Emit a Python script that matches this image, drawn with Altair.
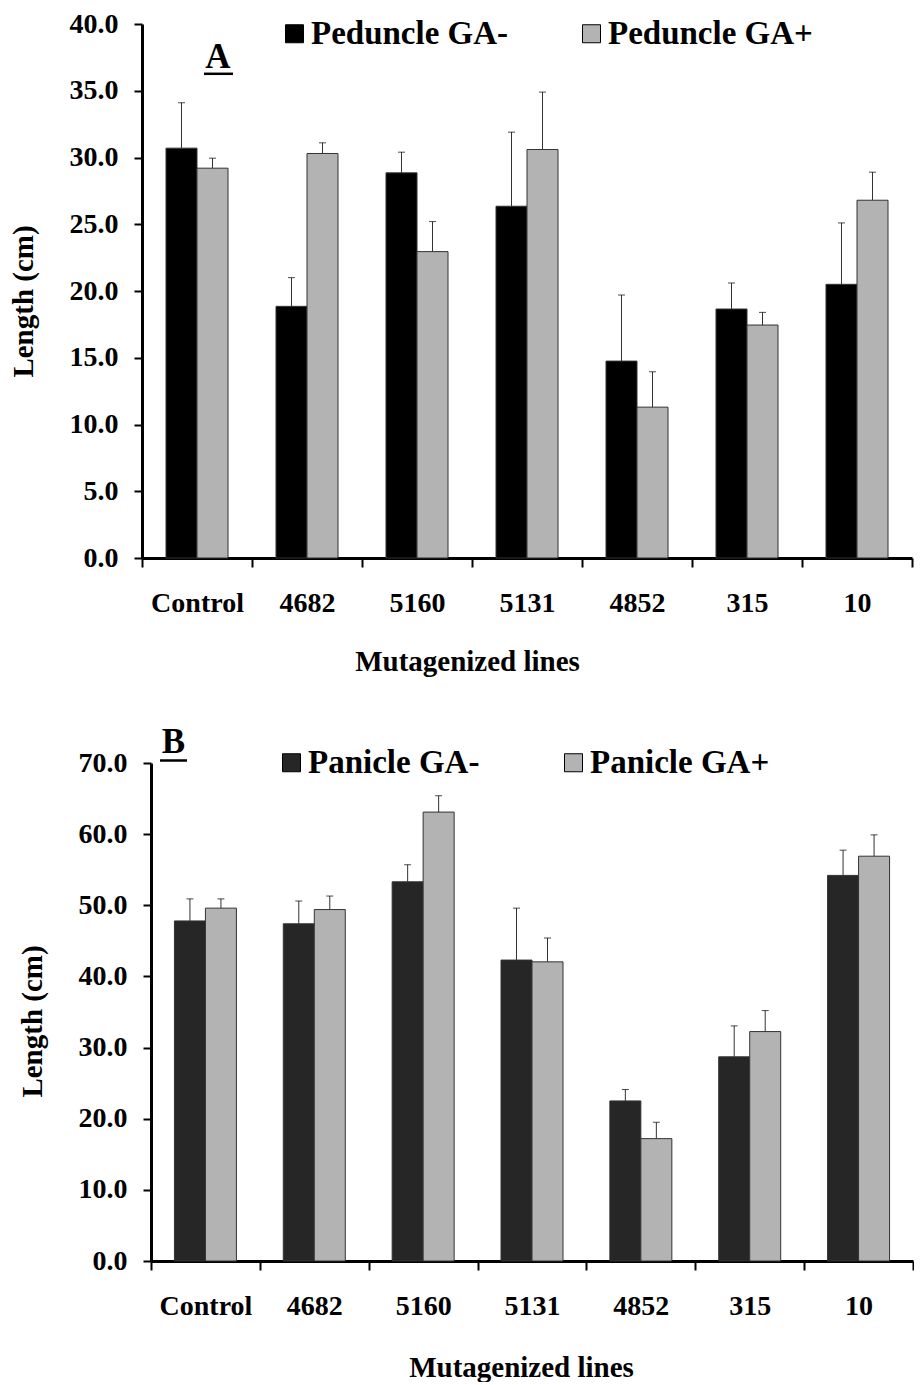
import altair as alt
import pandas as pd

FONT = "Liberation Serif"

lines = ["Control", "4682", "5160", "5131", "4852", "315", "10"]

# Panel A: peduncle length (cm)
ped_series = ["Peduncle GA-", "Peduncle GA+"]
ped_minus = [30.7, 18.85, 28.85, 26.35, 14.75, 18.65, 20.5]
ped_minus_upper = [34.1, 21.0, 30.4, 31.9, 19.7, 20.6, 25.1]
ped_plus = [29.2, 30.3, 22.95, 30.6, 11.3, 17.45, 26.8]
ped_plus_upper = [29.95, 31.1, 25.2, 34.9, 13.95, 18.4, 28.9]
ped_colors = ["#000000", "#b3b3b3"]

# Panel B: panicle length (cm)
pan_series = ["Panicle GA-", "Panicle GA+"]
pan_minus = [47.8, 47.4, 53.3, 42.3, 22.5, 28.7, 54.2]
pan_minus_upper = [50.9, 50.6, 55.7, 49.6, 24.1, 33.05, 57.75]
pan_plus = [49.6, 49.4, 63.1, 42.05, 17.2, 32.25, 56.9]
pan_plus_upper = [50.9, 51.3, 65.4, 45.4, 19.5, 35.2, 59.9]
pan_colors = ["#262626", "#b3b3b3"]

panel_letters = ["A", "B"]


def make_panel(series, m1, u1, m2, u2, colors, ymax, ystep, width, height, bw,
               letter, letter_xy, underline, leg_xy, col_pad, ytitle_y,
               xtitle_x, xtitle_pad):
    df = pd.DataFrame({
        "line": lines + lines,
        "series": [series[0]] * len(lines) + [series[1]] * len(lines),
        "value": m1 + m2,
        "upper": u1 + u2,
    })
    xenc = alt.X("line:N", sort=lines, title="Mutagenized lines",
                 scale=alt.Scale(paddingInner=0, paddingOuter=0),
                 axis=alt.Axis(labelAngle=0, tickBand="extent", tickSize=9,
                               labelPadding=22, titlePadding=xtitle_pad,
                               titleX=xtitle_x))
    yscale = alt.Scale(domain=[0, ymax], nice=False)
    yaxis = alt.Axis(values=list(range(0, ymax + 1, ystep)), format=".1f",
                     tickSize=8, labelPadding=16, titlePadding=31, titleY=ytitle_y)
    color = alt.Color("series:N", sort=series,
                      scale=alt.Scale(domain=series, range=colors),
                      legend=alt.Legend(title=None, orient="none",
                                        legendX=leg_xy[0], legendY=leg_xy[1],
                                        direction="horizontal",
                                        symbolType="square", symbolSize=324,
                                        symbolStrokeColor="black",
                                        symbolStrokeWidth=1,
                                        labelOffset=0, labelLimit=0,
                                        columnPadding=col_pad, padding=0))
    layers = []
    for s, sign in zip(series, (-1, 1)):
        sub = alt.Chart(df).transform_filter(alt.datum.series == s)
        off = sign * bw / 2
        layers.append(sub.mark_bar(width=bw, xOffset=off, stroke="#333333",
                                   strokeWidth=1).encode(
            x=xenc,
            y=alt.Y("value:Q", title="Length (cm)", scale=yscale, axis=yaxis),
            color=color))
        layers.append(sub.mark_rule(xOffset=off, color="#333333", strokeWidth=1).encode(
            x=xenc,
            y=alt.Y("value:Q", title="Length (cm)", scale=yscale, axis=yaxis),
            y2="upper:Q"))
        layers.append(sub.mark_tick(xOffset=off, color="black", thickness=1,
                                    size=7, orient="horizontal").encode(
            x=xenc,
            y=alt.Y("upper:Q", title="Length (cm)", scale=yscale, axis=yaxis)))
    ldf = pd.DataFrame({"letter": [letter]})
    layers.append(alt.Chart(ldf).mark_text(font=FONT, fontSize=35, fontWeight="bold",
                                           align="center", baseline="alphabetic",
                                           color="black").encode(
        text="letter:N", x=alt.value(letter_xy[0]), y=alt.value(letter_xy[1])))
    layers.append(alt.Chart(ldf).mark_rule(color="black", strokeWidth=2.5).encode(
        x=alt.value(underline[0]), x2=alt.value(underline[1]),
        y=alt.value(underline[2])))
    return alt.layer(*layers).properties(width=width, height=height)


def spacer(w):
    return alt.Chart(pd.DataFrame({"s": [0]})).mark_rule(opacity=0).encode(
        x=alt.value(0), x2=alt.value(w), y=alt.value(0)).properties(width=w, height=10)


chart_a = make_panel(ped_series, ped_minus, ped_minus_upper, ped_plus,
                     ped_plus_upper, ped_colors, 40, 5, 770, 534, 31,
                     panel_letters[0], (76, 43.5), (62, 91, 49.8),
                     (136, -7), 66, 277, 325, 30)
chart_b = make_panel(pan_series, pan_minus, pan_minus_upper, pan_plus,
                     pan_plus_upper, pan_colors, 70, 10, 762, 498, 31,
                     panel_letters[1], (22.5, -10), (9, 36, -2.5),
                     (124, -17), 77, 258, 370, 33)

row_a = alt.hconcat(spacer(1), chart_a, spacing=0).resolve_scale(color="independent")
row_b = alt.hconcat(spacer(10), chart_b, spacing=0).resolve_scale(color="independent")

chart = alt.vconcat(row_a, row_b, spacing=49).resolve_scale(
    color="independent", y="independent", x="independent"
).properties(
    padding={"left": 0, "top": 2, "right": 0, "bottom": 0}
).configure_view(stroke=None).configure_axis(
    grid=False, domainColor="black", domainWidth=3, tickColor="black", tickWidth=2,
    labelFont=FONT, labelFontSize=28, labelFontWeight="bold", labelColor="black",
    titleFont=FONT, titleFontSize=29, titleFontWeight="bold", titleColor="black",
).configure_legend(
    labelFont=FONT, labelFontSize=33, labelFontWeight="bold", labelColor="black",
)

chart.save("out.html", embed_options={"renderer": "svg", "actions": False})
